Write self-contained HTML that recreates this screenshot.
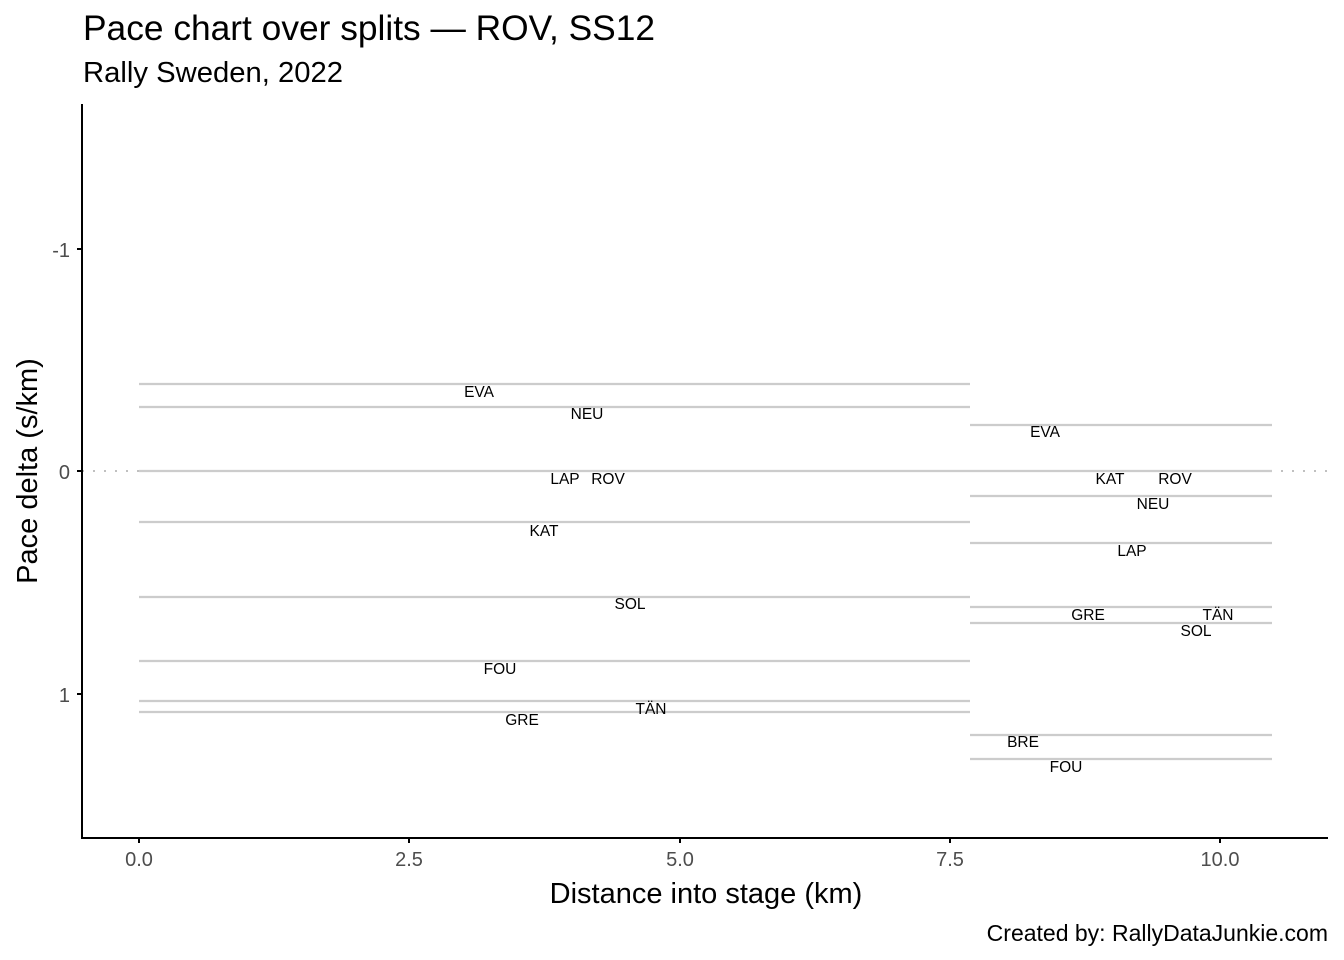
<!DOCTYPE html>
<html><head><meta charset="utf-8"><style>
html,body{margin:0;padding:0;background:#fff;}
svg{display:block;font-family:"Liberation Sans",sans-serif;}
</style></head><body>
<svg width="1344" height="960" viewBox="0 0 1344 960">
<rect width="1344" height="960" fill="#fff"/>
<text x="83" y="40" font-size="35" fill="#000" textLength="572" lengthAdjust="spacingAndGlyphs">Pace chart over splits — ROV, SS12</text>
<text x="83" y="82" font-size="29" fill="#000" textLength="260" lengthAdjust="spacingAndGlyphs">Rally Sweden, 2022</text>
<line x1="82" y1="471" x2="1328" y2="471" stroke="#c0c0c0" stroke-width="2" stroke-dasharray="2,9"/>
<g stroke="#cccccc" stroke-width="2.3">
<line x1="139" x2="970" y1="384" y2="384"/>
<line x1="139" x2="970" y1="407" y2="407"/>
<line x1="139" x2="970" y1="471" y2="471"/>
<line x1="139" x2="970" y1="522" y2="522"/>
<line x1="139" x2="970" y1="597" y2="597"/>
<line x1="139" x2="970" y1="661" y2="661"/>
<line x1="139" x2="970" y1="701" y2="701"/>
<line x1="139" x2="970" y1="712" y2="712"/>
<line x1="970" x2="1272" y1="425" y2="425"/>
<line x1="970" x2="1272" y1="471" y2="471"/>
<line x1="970" x2="1272" y1="496" y2="496"/>
<line x1="970" x2="1272" y1="543" y2="543"/>
<line x1="970" x2="1272" y1="607" y2="607"/>
<line x1="970" x2="1272" y1="623" y2="623"/>
<line x1="970" x2="1272" y1="735" y2="735"/>
<line x1="970" x2="1272" y1="759" y2="759"/>
</g>
<g font-size="15.5" fill="#000" text-anchor="middle">
<text x="479" y="397">EVA</text>
<text x="587" y="419">NEU</text>
<text x="565" y="484">LAP</text>
<text x="608" y="484">ROV</text>
<text x="544" y="536">KAT</text>
<text x="630" y="609">SOL</text>
<text x="500" y="674">FOU</text>
<text x="651" y="714">TÄN</text>
<text x="522" y="725">GRE</text>
<text x="1045" y="437">EVA</text>
<text x="1110" y="484">KAT</text>
<text x="1175" y="484">ROV</text>
<text x="1153" y="509">NEU</text>
<text x="1132" y="556">LAP</text>
<text x="1088" y="620">GRE</text>
<text x="1218" y="620">TÄN</text>
<text x="1196" y="636">SOL</text>
<text x="1023" y="747">BRE</text>
<text x="1066" y="772">FOU</text>
</g>
<g stroke="#000" stroke-width="2">
<line x1="82" y1="104" x2="82" y2="839"/>
<line x1="81" y1="838" x2="1328" y2="838"/>
<line x1="77" y1="249" x2="82" y2="249"/>
<line x1="77" y1="471" x2="82" y2="471"/>
<line x1="77" y1="694" x2="82" y2="694"/>
<line x1="139" y1="838" x2="139" y2="843"/>
<line x1="409" y1="838" x2="409" y2="843"/>
<line x1="680" y1="838" x2="680" y2="843"/>
<line x1="950" y1="838" x2="950" y2="843"/>
<line x1="1220" y1="838" x2="1220" y2="843"/>
</g>
<g font-size="20" fill="#4d4d4d" text-anchor="end">
<text x="70" y="257">-1</text>
<text x="70" y="479">0</text>
<text x="70" y="702">1</text>
</g>
<g font-size="20" fill="#4d4d4d" text-anchor="middle">
<text x="139" y="866">0.0</text>
<text x="409" y="866">2.5</text>
<text x="680" y="866">5.0</text>
<text x="950" y="866">7.5</text>
<text x="1220" y="866">10.0</text>
</g>
<text x="706" y="903" font-size="29" text-anchor="middle" fill="#000">Distance into stage (km)</text>
<text transform="translate(37,471) rotate(-90)" font-size="29" text-anchor="middle" fill="#000">Pace delta (s/km)</text>
<text x="1328" y="941" font-size="23" text-anchor="end" fill="#000">Created by: RallyDataJunkie.com</text>
</svg>
</body></html>
